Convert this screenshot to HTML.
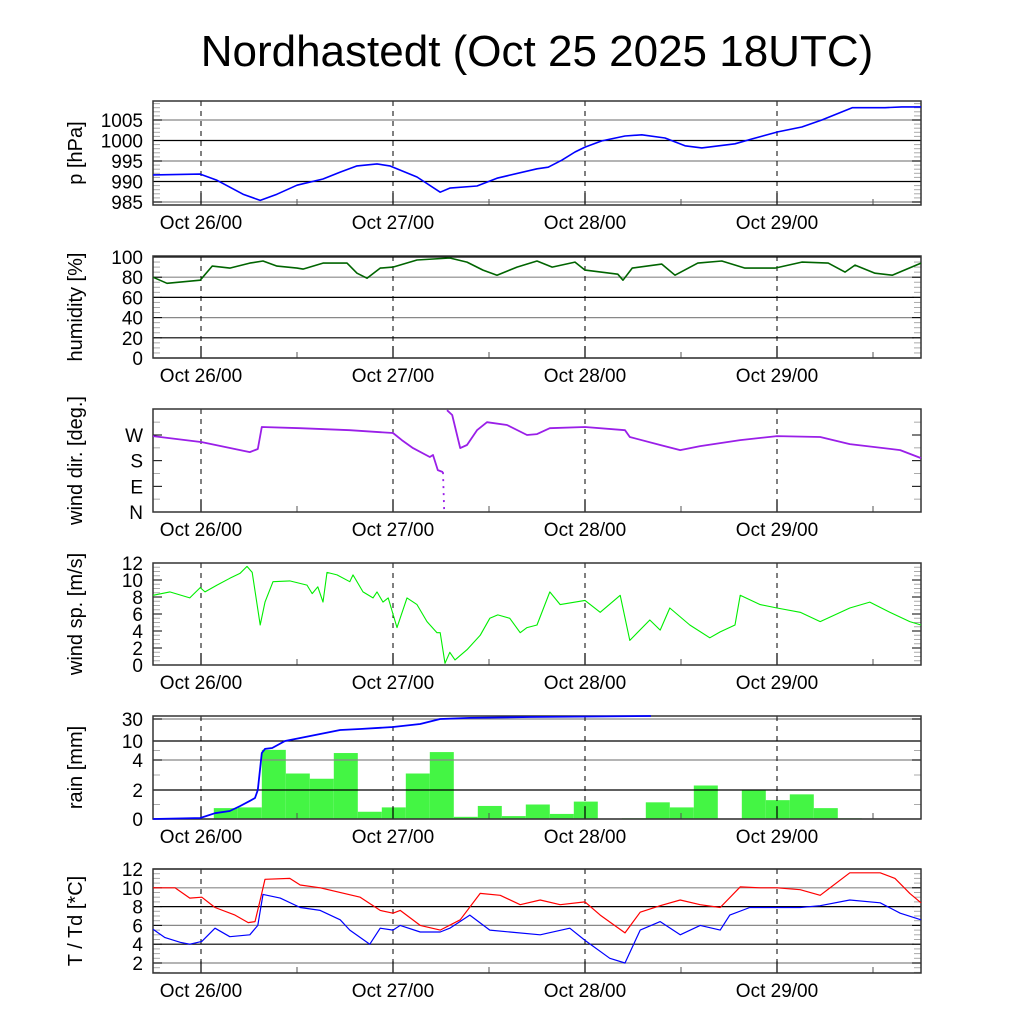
<!DOCTYPE html>
<html><head><meta charset="utf-8"><style>
body{margin:0;background:#fff;}
svg{display:block;font-family:"Liberation Sans",sans-serif;}
</style></head><body>
<svg id="chart" width="1024" height="1024" viewBox="0 0 1024 1024" xmlns="http://www.w3.org/2000/svg">
<text x="537" y="66" font-size="44" text-anchor="middle">Nordhastedt (Oct 25 2025 18UTC)</text>
</svg>
<script>
// ---- data (hours since Oct 25 18UTC) ----
const dayLabels = ["Oct 26/00","Oct 27/00","Oct 28/00","Oct 29/00"];
const dayHours = [6,30,54,78];

const presTime = [0,5.9,8,11.25,13.4,15.5,18,21.25,23.4,25.5,28,29.6,33,35.9,37.1,40.5,43,48,49.4,51.1,52.75,54,56.1,59,61.1,64,66.5,68.6,72.75,74.9,78.1,81.1,83.6,87.4,91.5,93.6,96];
const presVals = [991.6,991.8,990.3,986.9,985.4,986.9,989.1,990.6,992.3,993.8,994.3,993.8,991.1,987.4,988.4,988.9,990.8,993.1,993.5,995.2,997.2,998.4,999.9,1001.1,1001.4,1000.6,998.7,998.2,999.2,1000.4,1002.1,1003.3,1005.0,1008.0,1008.0,1008.2,1008.2];
const presTicks = [985,990,995,1000,1005];

const humTime = [0,1.75,5.9,7.4,9.6,12.1,13.75,15.5,18,18.75,21.25,24.25,25.5,26.75,28.4,30,33,37.1,39.25,41.25,43,45.5,48,49.9,52.75,54,58.1,58.75,59.9,63.6,65.25,68.1,71.1,74,77.75,81.1,84.4,86.5,87.75,90.25,92.4,96];
const humVals = [80,74,77,91,89,94,96,91,89,88,94,94,84,79,89,90,97,99,95,87,82,90,96,90,95,87,83,77,89,93,82,94,96,89,89,95,94,85,92,84,82,94];
const humTicks = [0,20,40,60,80,100];

const dirTime = [0,6.1,12.1,13.1,13.6,18.4,24.6,30,31.1,32.5,34.6,35,35.6,36.25,36.4,36.75,37.4,38.4,39.25,40.5,41.75,44.25,46.75,48,49.6,54,59,59.6,63.4,65.9,68.4,73.4,78,83.4,87.1,93.4,96];
const dirVals = [266,245,210,221,298,294,287,277,252,224,193,200,147,140,0,357,340,224,235,287,315,305,270,273,294,298,287,263,235,217,231,252,266,263,238,217,189];
const dirTicks = [0,90,180,270];
const dirTickLabels = ["N","E","S","W"];

const spdTime = [0,2.1,4.6,5.9,6.5,8,9.6,10.9,11.75,12.4,13.4,14,15,17.1,19.25,19.9,20.6,21.25,21.75,23,24.6,25,26.25,27.5,28,28.75,29.4,30.5,31.75,33,34.25,35.5,35.9,36.5,37.1,37.75,39.25,40.9,42.1,43.1,44.6,45.9,46.75,48,49.6,50.9,54,55.9,58.4,59.6,62.1,63.4,64.6,67.1,69.6,70.9,72.75,73.4,75.9,78,80.9,83.4,87.1,89.6,92.1,94.6,96];
const spdVals = [8.2,8.6,7.9,9.1,8.6,9.4,10.2,10.8,11.6,10.9,4.7,7.4,9.8,9.9,9.4,8.4,9.2,7.4,10.9,10.6,9.8,10.6,8.6,7.9,8.6,7.4,7.9,4.4,7.9,7.1,5.1,3.8,3.8,0.2,1.5,0.6,1.8,3.5,5.5,5.9,5.5,3.8,4.4,4.7,8.6,7.1,7.6,6.2,8.2,2.9,5.3,4.1,6.7,4.7,3.2,3.9,4.7,8.2,7.1,6.7,6.2,5.1,6.7,7.4,6.2,5.1,4.7];
const spdTicks = [0,2,4,6,8,10,12];

const rainStart = 7.6;
const rainStep = 3;
const rainBars = [0.75,0.8,7.2,3.1,2.75,6.2,0.5,0.8,3.1,6.5,0.15,0.9,0.2,1.0,0.35,1.2,0,0.05,1.15,0.8,2.3,0,2.0,1.3,1.7,0.75,0.05];
const rainSumTime = [0,5.9,7.75,9.6,10.9,12.1,12.75,13.1,13.6,14,14.9,16.5,18.4,20.9,23.4,25.9,30,33.4,35.9,39.6,47.1,62.25];
const rainSumVals = [0,0.07,0.4,0.55,0.9,1.25,1.45,2.0,6.2,7.5,7.8,10,12.7,16.4,20,20.9,22.7,25.5,30,31,31.8,32.7];
const rainTicks = [0,2,4,10,30];

const tTime = [0,2.75,4.6,6.1,7.75,10.25,11.9,12.75,13.4,14,17.1,18.4,20.9,25.9,28.4,30,30.9,33.4,35.9,38.4,40.9,43.4,45.9,48.4,50.9,54,55.9,59,60.9,63.4,65.9,68.4,70.9,73.4,75.9,78,80.9,83.4,87.1,90.9,92.75,94.6,96];
const tVals = [10,10,8.9,9,7.9,7.1,6.3,6.4,8.7,10.9,11,10.3,10,9,7.6,7.3,7.6,6,5.5,6.6,9.4,9.2,8.2,8.7,8.2,8.5,7.1,5.2,7.4,8.1,8.7,8.2,7.9,10.1,10,10,9.8,9.2,11.6,11.6,11,9.4,8.4];
const tdTime = [0,1.5,3.4,4.6,6.1,7.75,9.6,12.1,13.1,13.75,15.9,18.4,20.9,23.4,24.6,27.1,28.4,30,30.9,33.4,35.9,37.1,39.6,42.1,44.6,48.4,52.1,54,57.1,59,60.9,63.4,65.9,68.4,70.9,72.1,74.6,78,80.9,83.4,87.1,90.9,93.4,96];
const tdVals = [5.6,4.7,4.2,4,4.3,5.7,4.8,5,6,9.3,8.9,7.9,7.6,6.6,5.5,4,5.7,5.5,6,5.3,5.3,5.7,7.1,5.5,5.3,5,5.7,4.4,2.5,2,5.5,6.4,5,6,5.5,7.1,7.9,7.9,7.9,8.1,8.7,8.4,7.3,6.6];
const tTicks = [2,4,6,8,10,12];

// ---- layout ----
const NS = "http://www.w3.org/2000/svg";
const svg = document.getElementById('chart');
const X0 = 153, X1 = 921, HOURS = 96;
const xs = h => X0 + (X1 - X0) * h / HOURS;
function el(tag, attrs, parent) {
  const e = document.createElementNS(NS, tag);
  for (const k in attrs) e.setAttribute(k, attrs[k]);
  (parent || svg).appendChild(e);
  return e;
}
function linScale(d0, d1, r0, r1) { return v => r0 + (v - d0) * (r1 - r0) / (d1 - d0); }

function panel(name, top, bot, yscale, ticks, labels, gridlines, ylabel, minorTicks) {
  const g = el('g', {});
  
  
  if (gridlines) {
    ticks.forEach((t, i) => {
      const y = yscale(t);
      const ln = el('line', {x1: X0, x2: X1, y1: y, y2: y, stroke: i % 2 === 0 ? '#888' : '#000', 'stroke-width': 1.2}, g);
      
      
    });
  }
  (minorTicks || []).forEach(v => {
    const y = yscale(v);
    if (y < top || y > bot) return;
    el('line', {x1: X0, x2: X0 + 7, y1: y, y2: y, stroke: '#aaa', 'stroke-width': 1}, g);
    el('line', {x1: X1 - 7, x2: X1, y1: y, y2: y, stroke: '#aaa', 'stroke-width': 1}, g);
  });
  ticks.forEach((t, i) => {
    const y = yscale(t);
    el('line', {x1: X0, x2: X0 + 9, y1: y, y2: y, stroke: '#000', 'stroke-width': 1}, g);
    el('line', {x1: X1 - 9, x2: X1, y1: y, y2: y, stroke: '#000', 'stroke-width': 1}, g);
    const tx = el('text', {x: 143, y: y + 7, 'font-size': 19, 'text-anchor': 'end'}, g);
    
    
    tx.textContent = labels[i];
  });
  dayHours.forEach((h, i) => {
    const x = xs(h);
    el('line', {x1: x, x2: x, y1: top, y2: bot, stroke: '#000', 'stroke-width': 1, 'stroke-dasharray': '5,5'}, g);
    el('line', {x1: x, x2: x, y1: bot - 12, y2: bot, stroke: '#000', 'stroke-width': 1.2}, g);
    el('line', {x1: xs(h + 12), x2: xs(h + 12), y1: bot - 6, y2: bot, stroke: '#555', 'stroke-width': 1}, g);
    const tx = el('text', {x: x, y: bot + 24, 'font-size': 19, 'text-anchor': 'middle'}, g);
    
    
    tx.textContent = dayLabels[i];
  });
  const fr = el('rect', {x: X0, y: top, width: X1 - X0, height: bot - top, fill: 'none', stroke: '#333', 'stroke-width': 1.5}, g);
  
  
  const cy = (top + bot) / 2;
  const yl = el('text', {x: 0, y: 0, 'font-size': 20, 'text-anchor': 'middle', transform: `translate(82,${cy}) rotate(-90)`}, g);
  
  
  yl.textContent = ylabel;
  return g;
}
function series(name, times, vals, yscale, color, width, breakJump, dotJumps) {
  let d = '', dd = '';
  for (let i = 0; i < times.length; i++) {
    const jump = i > 0 && breakJump && Math.abs(vals[i] - vals[i - 1]) > breakJump;
    const cmd = (i === 0 || jump) ? 'M' : 'L';
    const x = xs(times[i]).toFixed(1), y = yscale(vals[i]).toFixed(1);
    if (jump && dotJumps && Math.abs(vals[i] - vals[i - 1]) < 180) {
      dd += 'M' + xs(times[i - 1]).toFixed(1) + ',' + yscale(vals[i - 1]).toFixed(1) + 'L' + x + ',' + y;
    }
    d += cmd + x + ',' + y;
  }
  const p = el('path', {d: d, fill: 'none', stroke: color, 'stroke-width': width, 'stroke-linejoin': 'round'});
  
  
  if (dd) {
    const q = el('path', {d: dd, fill: 'none', stroke: color, 'stroke-width': width, 'stroke-dasharray': '2,5'});
    
    
  }
  return p;
}
function range(a, b, s) { const r = []; for (let v = a; v <= b + 1e-9; v += s) r.push(v); return r; }

// 1 pressure
const yP = linScale(985, 1005, 202, 120);
panel('pressure', 101, 205, yP, presTicks, presTicks.map(String), true, 'p [hPa]', range(984, 1010, 1));
series('pressure-line', presTime, presVals, yP, '#0000ff', 1.6);

// 2 humidity
const yH = linScale(0, 100, 358, 257);
panel('humidity', 256, 358, yH, humTicks, humTicks.map(String), true, 'humidity [%]', range(0, 100, 5));
series('humidity-line', humTime, humVals, yH, '#006400', 1.6);

// 3 wind direction
const yD = linScale(0, 270, 512, 435);
panel('wind-dir', 409, 512, yD, dirTicks, dirTickLabels, false, 'wind dir. [deg.]', range(45, 360, 90));
series('wind-dir-line', dirTime, dirVals, yD, '#9a1fe8', 1.8, 130, true);

// 4 wind speed
const yS = linScale(0, 12, 665, 563);
panel('wind-speed', 563, 665, yS, spdTicks, spdTicks.map(String), false, 'wind sp. [m/s]', range(0, 12, 0.5));
series('wind-speed-line', spdTime, spdVals, yS, '#00ee00', 1.1);

// 5 rain (piecewise scale)
const rainPix = [819, 790, 760, 741, 719];
function yR(v) {
  for (let i = 0; i < rainTicks.length - 1; i++) {
    if (v <= rainTicks[i + 1] || i === rainTicks.length - 2) {
      const t = (v - rainTicks[i]) / (rainTicks[i + 1] - rainTicks[i]);
      return Math.max(716, rainPix[i] + t * (rainPix[i + 1] - rainPix[i]));
    }
  }
}
const rg = el('g', {});


rainBars.forEach((v, i) => {
  if (v <= 0) return;
  const x0 = xs(rainStart + i * rainStep), x1 = xs(rainStart + (i + 1) * rainStep);
  const r = el('rect', {x: x0, y: yR(v), width: x1 - x0, height: 819 - yR(v), fill: '#44f544'}, rg);
  
  
});
panel('rain', 716, 819, yR, rainTicks, rainTicks.map(String), true, 'rain [mm]', [1, 3, 7]);
svg.insertBefore(rg, svg.lastChild);
series('rain-cumulative-line', rainSumTime, rainSumVals, yR, '#0000ff', 1.8);

// 6 temperature
const yT = linScale(2, 12, 963, 869);
panel('temperature', 869, 973, yT, tTicks, tTicks.map(String), true, 'T / Td [*C]', range(1, 12, 0.5));
series('temperature-line', tTime, tVals, yT, '#ff0000', 1.2);
series('dewpoint-line', tdTime, tdVals, yT, '#0000ff', 1.2);
</script>
</body></html>
